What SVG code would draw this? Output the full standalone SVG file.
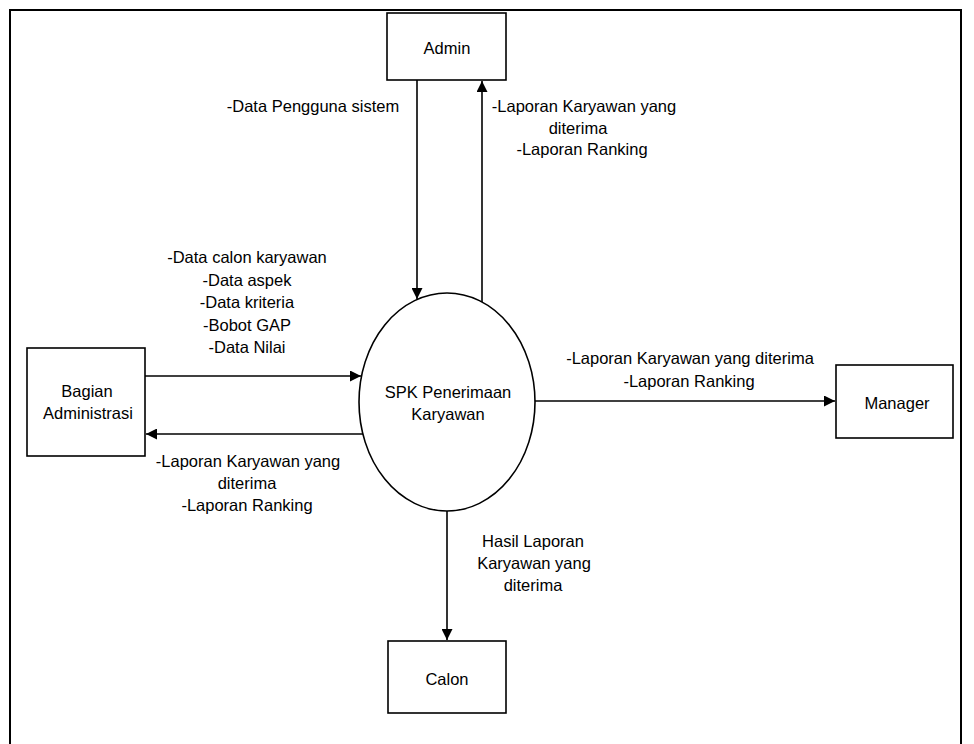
<svg xmlns="http://www.w3.org/2000/svg" width="974" height="744" viewBox="0 0 974 744">
<style>
  .box{fill:#fff;stroke:#000;stroke-width:1.6}
  .frame{fill:none;stroke:#000;stroke-width:2}
  .t{font-family:"Liberation Sans",Arial,sans-serif;font-size:16.5px;fill:#000;text-anchor:middle}
  .ln{stroke:#000;stroke-width:1.6;fill:none;marker-end:url(#ah)}
</style>
<defs>
  <marker id="ah" markerUnits="userSpaceOnUse" markerWidth="11" markerHeight="11" viewBox="0 0 10 10" refX="10" refY="5" orient="auto">
    <path d="M0,0 L10,5 L0,10 z" fill="#000"/>
  </marker>
</defs>
<rect width="974" height="744" fill="#fff"/>
<path class="frame" d="M10,744 L10,10 L961,10 L961,744"/>
<g id="admin">
  <rect class="box" x="387" y="13" width="119" height="67"/>
  <text class="t" x="447" y="54">Admin</text>
</g>
<g id="spk">
  <ellipse class="box" cx="447" cy="402" rx="88" ry="109"/>
  <text class="t" x="448" y="398">SPK Penerimaan</text>
  <text class="t" x="448" y="420">Karyawan</text>
</g>
<g id="bagian">
  <rect class="box" x="27" y="348" width="118" height="108"/>
  <text class="t" x="87" y="397">Bagian</text>
  <text class="t" x="88" y="419">Administrasi</text>
</g>
<g id="manager">
  <rect class="box" x="836" y="365" width="117" height="73"/>
  <text class="t" x="897" y="409">Manager</text>
</g>
<g id="calon">
  <rect class="box" x="388" y="641" width="118" height="72"/>
  <text class="t" x="447" y="685">Calon</text>
</g>
<g id="connectors">
  <line class="ln" x1="417" y1="80" x2="417" y2="299"/>
  <line class="ln" x1="482" y1="302" x2="482" y2="81"/>
  <line class="ln" x1="145" y1="376" x2="361" y2="376"/>
  <line class="ln" x1="363" y1="434" x2="146" y2="434"/>
  <line class="ln" x1="535" y1="401" x2="835" y2="401"/>
  <line class="ln" x1="447" y1="511" x2="447" y2="640"/>
</g>
<g id="labels">
  <text class="t" x="313" y="112">-Data Pengguna sistem</text>
  <text class="t" x="584" y="112">-Laporan Karyawan yang</text>
  <text class="t" x="578" y="133.5">diterima</text>
  <text class="t" x="582" y="155">-Laporan Ranking</text>
  <text class="t" x="247" y="263">-Data calon karyawan</text>
  <text class="t" x="247" y="285.5">-Data aspek</text>
  <text class="t" x="247" y="308">-Data kriteria</text>
  <text class="t" x="247" y="330.5">-Bobot GAP</text>
  <text class="t" x="247" y="353">-Data Nilai</text>
  <text class="t" x="248" y="467">-Laporan Karyawan yang</text>
  <text class="t" x="247" y="488.5">diterima</text>
  <text class="t" x="247" y="510.5">-Laporan Ranking</text>
  <text class="t" x="690" y="364">-Laporan Karyawan yang diterima</text>
  <text class="t" x="689" y="386.5">-Laporan Ranking</text>
  <text class="t" x="533" y="547">Hasil Laporan</text>
  <text class="t" x="534" y="569">Karyawan yang</text>
  <text class="t" x="533" y="591">diterima</text>
</g>
</svg>
